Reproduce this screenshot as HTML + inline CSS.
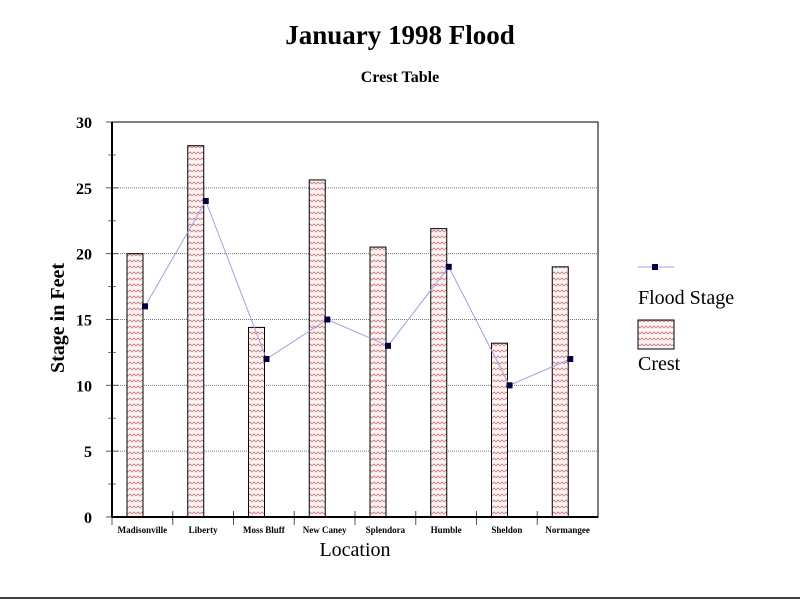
<!DOCTYPE html>
<html><head><meta charset="utf-8"><style>
body{margin:0;background:#fff;width:800px;height:600px;overflow:hidden}
svg text{font-family:"Liberation Serif",serif;font-weight:bold}
</style></head><body>
<svg width="800" height="600" id="chart">
<defs>
<pattern id="zz" width="8" height="6" patternUnits="userSpaceOnUse">
<rect width="8" height="6" fill="#fbf3f3"/>
<path d="M0,4 L2,2 L4,4 L6,2 L8,4" fill="none" stroke="#c87a7a" stroke-width="0.8"/>
</pattern>
</defs>
<text x="400" y="44" text-anchor="middle" font-size="27">January 1998 Flood</text>
<text x="400" y="82" text-anchor="middle" font-size="16">Crest Table</text>
<text x="355" y="556" text-anchor="middle" font-size="20" style="font-weight:normal">Location</text>
<text transform="translate(64,318) rotate(-90)" text-anchor="middle" font-size="20">Stage in Feet</text>
<g id="grid"></g><g id="bars"></g><g id="line"></g><g id="axes"></g>
<line x1="0" y1="598" x2="800" y2="598" stroke="#000" stroke-width="1.5"/>
<g>
<line x1="638" y1="267" x2="674" y2="267" stroke="#a0a0e0" stroke-width="1"/>
<rect x="652" y="264" width="6" height="6" fill="#000040"/>
<text x="638" y="304" font-size="20" style="font-weight:normal">Flood Stage</text>
<rect x="638" y="320" width="36" height="29" fill="url(#zz)" stroke="#000"/>
<text x="638" y="370" font-size="20" style="font-weight:normal">Crest</text>
</g>
</svg>
<script>
const categories=["Madisonville","Liberty","Moss Bluff","New Caney","Splendora","Humble","Sheldon","Normangee"];
const crest=[20,28.2,14.4,25.6,20.5,21.9,13.2,19];
const floodStage=[16,24,12,15,13,19,10,12];
const yTicks=[0,5,10,15,20,25,30];
const NS="http://www.w3.org/2000/svg";
const X0=112,X1=598,Y0=517,Y1=122,YMAX=30;
const bw=(X1-X0)/categories.length;
const y=v=>Y0-(v/YMAX)*(Y0-Y1);
const xs=i=>X0+i*bw;
function mk(t,a,p){const e=document.createElementNS(NS,t);for(const k in a)e.setAttribute(k,a[k]);p.appendChild(e);return e;}
const grid=document.getElementById('grid'),bars=document.getElementById('bars'),line=document.getElementById('line'),axes=document.getElementById('axes');
yTicks.forEach(t=>{
 if(t>0&&t<YMAX){const g=mk('line',{x1:X0,x2:X1,y1:y(t),y2:y(t),stroke:'#777','stroke-dasharray':'1,1'},grid);
 
 }
 const tk=mk('line',{x1:X0-6,x2:X0+6,y1:y(t),y2:y(t),stroke:'#555'},axes);
 
 
 if(t<YMAX){const mt=mk('line',{x1:X0-4,x2:X0+4,y1:y(t+2.5),y2:y(t+2.5),stroke:'#777'},axes);
 
 }
 const tx=mk('text',{x:X0-20,y:y(t)+6,'text-anchor':'end','font-size':16},axes);
 tx.textContent=t;
 
 
});
categories.forEach((c,i)=>{
 const r=mk('rect',{x:xs(i)+15,y:y(crest[i]),width:16,height:Y0-y(crest[i]),fill:'url(#zz)',stroke:'#000'},bars);
 
 
 const tk=mk('line',{x1:xs(i),x2:xs(i),y1:Y0-6,y2:Y0+8,stroke:'#555'},axes);
 
 
 const tx=mk('text',{x:xs(i)+bw/2,y:Y0+16,'text-anchor':'middle','font-size':9},axes);
 tx.textContent=c;
 
 
});
const pts=floodStage.map((v,i)=>(xs(i)+33)+','+y(v)).join(' ');
const pl=mk('polyline',{points:pts,fill:'none',stroke:'#a0a0e0','stroke-width':1},line);


floodStage.forEach((v,i)=>{
 const m=mk('rect',{x:xs(i)+30,y:y(v)-3,width:6,height:6,fill:'#000040'},line);
 
 
});
const fr=mk('rect',{x:X0,y:Y1,width:X1-X0,height:Y0-Y1,fill:'none',stroke:'#000','stroke-width':1},axes);


mk('line',{x1:X0,x2:X0,y1:Y1,y2:Y0,stroke:'#000','stroke-width':2},axes);
mk('line',{x1:X0,x2:X1,y1:Y0,y2:Y0,stroke:'#000','stroke-width':2},axes);
</script>
</body></html>
